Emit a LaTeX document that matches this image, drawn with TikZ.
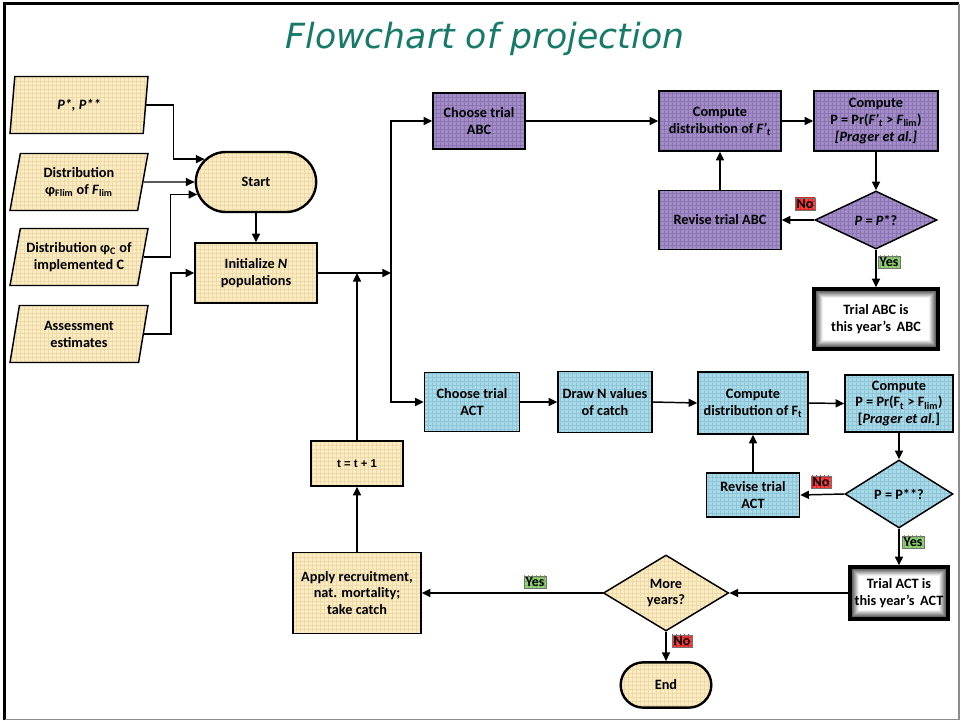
\documentclass[tikz,border=0pt]{standalone}
\usepackage{fontspec}
\setmainfont{Carlito}
\newfontfamily\titlefont{DejaVu Sans}
\newfontfamily\arialfont{Liberation Sans}
\usetikzlibrary{shapes.geometric,shapes.misc,arrows.meta,patterns,calc}
\definecolor{ylw}{RGB}{252,236,196}
\definecolor{ylwgrid}{RGB}{238,218,168}
\definecolor{prp}{RGB}{163,142,200}
\definecolor{prpgrid}{RGB}{138,116,180}
\definecolor{blu}{RGB}{170,217,232}
\definecolor{blugrid}{RGB}{140,196,216}
\definecolor{teal2}{RGB}{22,122,104}
\definecolor{redlab}{RGB}{255,64,64}
\definecolor{redgrid}{RGB}{215,40,40}
\definecolor{grnlab}{RGB}{150,212,118}
\definecolor{grngrid}{RGB}{120,185,95}
\begin{document}
\begin{tikzpicture}[x=0.75pt,y=-0.75pt,
  font=\bfseries\fontsize{10.7}{12.7}\selectfont,
  box/.style={draw=black, line width=1.1pt, align=center, inner sep=1pt},
  yl/.style={box, preaction={fill=ylw}, pattern=grid, pattern color=ylwgrid},
  pr/.style={box, preaction={fill=prp}, pattern=grid, pattern color=prpgrid},
  bl/.style={box, preaction={fill=blu}, pattern=grid, pattern color=blugrid},
  para/.style={yl, trapezium, trapezium left angle=72, trapezium right angle=108,
    trapezium stretches body, minimum width=103.5pt, minimum height=42.75pt},
  term/.style={yl, rounded rectangle, line width=1.8pt},
  dia/.style={diamond, inner sep=0pt},
  trialbox/.style={draw=black, line width=2.6pt, fill=white, align=center,
    path picture={\foreach \i [evaluate=\i as \g using 60-9*\i] in {0,...,6}{
      \draw[draw=black!\g, line width=0.9pt]
        ([shift={(1.6pt+\i*0.8pt,1.6pt+\i*0.8pt)}]path picture bounding box.south west)
        rectangle ([shift={(-1.6pt-\i*0.8pt,-1.6pt-\i*0.8pt)}]path picture bounding box.north east);}}},
  arr/.style={-{Triangle[length=6.5pt,width=6pt]}, line width=1.1pt},
  lab/.style={draw=black!55, line width=0.5pt, inner sep=1.1pt, font=\bfseries\fontsize{10.5}{11}\selectfont},
  nolab/.style={lab, preaction={fill=redlab}, pattern=grid, pattern color=redgrid},
  yeslab/.style={lab, preaction={fill=grnlab}, pattern=grid, pattern color=grngrid}
]
\useasboundingbox (0,0) rectangle (961,721);
% frame
\draw[line width=2.2pt] (4.5,720) -- (4.5,3.5) -- (959,3.5);
\draw[black!45, line width=1pt] (959,3.5) -- (959,719.5) -- (4.5,719.5);

% title
\node[font=\titlefont\itshape\mdseries\fontsize{26}{30}\selectfont, text=teal2] (title) at (485,39) {Flowchart of projection};

% inputs
\node[para] (p1) at (79,105) {\itshape P*, P**};
\node[para] (p2) at (79,182) {Distribution\\ φ\textsubscript{Flim} of \textit{F}\textsubscript{lim}};
\node[para] (p3) at (79,257) {Distribution φ\textsubscript{C} of\\ implemented C};
\node[para] (p4) at (79,334) {Assessment\\ estimates};

\node[term, minimum width=92.25pt, minimum height=45pt] (start) at (256,182) {Start};
\node[yl, minimum width=91.5pt, minimum height=45pt] (init) at (256,273) {Initialize \textit{N}\\ populations};

\node[yl, minimum width=69pt, minimum height=33.75pt, font=\arialfont\bfseries\fontsize{8.5}{10}\selectfont] (tt) at (357,463.5) {t = t + 1};
\node[yl, minimum width=96pt, minimum height=60.75pt] (apply) at (357,593) {Apply recruitment,\\ nat. mortality;\\ take catch};

% ABC row
\node[pr, minimum width=69pt, minimum height=42pt] (cABC) at (479,121) {Choose trial\\ ABC};
\node[pr, minimum width=91.5pt, minimum height=45pt] (dABC) at (720,121) {Compute\\ distribution of \textit{F’}\textsubscript{\textit{t}}};
\node[pr, minimum width=93pt, minimum height=45pt] (pABC) at (876,121) {Compute\\ P = Pr(\textit{F’}\textsubscript{\textit{t}} > \textit{F}\textsubscript{lim})\\ \textit{[Prager et al.]}};
\node[pr, minimum width=91.5pt, minimum height=44.25pt] (rABC) at (720,220) {Revise trial ABC};
\node[pr, dia, minimum width=91.5pt, minimum height=43.5pt] (qABC) at (876,220) {\textit{P} = \textit{P}*?};
\node[trialbox, minimum width=93pt, minimum height=45pt] (tABC) at (876,319) {Trial ABC is\\ this year's\, ABC};

% ACT row
\node[bl, minimum width=71.25pt, minimum height=44.25pt] (cACT) at (472,402) {Choose trial\\ ACT};
\node[bl, minimum width=70.5pt, minimum height=45.75pt] (nACT) at (605,402) {Draw N values\\ of catch};
\node[bl, minimum width=82.5pt, minimum height=46.5pt] (dACT) at (753,403) {Compute\\ distribution of F\textsubscript{t}};
\node[bl, minimum width=81pt, minimum height=42.75pt] (pACT) at (899,403.5) {Compute\\ P = Pr(F\textsubscript{t} > F\textsubscript{lim})\\ {[}\textit{Prager et al.}{]}};
\node[bl, minimum width=69.75pt, minimum height=33pt] (rACT) at (753,495) {Revise trial\\ ACT};
\node[bl, dia, minimum width=81pt, minimum height=51pt] (qACT) at (899,494) {P = P**?};
\node[trialbox, minimum width=72pt, minimum height=39pt] (tACT) at (899,593) {Trial ACT is\\ this year's\, ACT};

\node[yl, dia, minimum width=94pt, minimum height=57pt] (more) at (666,593) {More\\ years?};
\node[term, minimum width=70pt, minimum height=34pt] (end) at (666,685) {End};

% labels
\node[nolab] (no1) at (805,204) {No};
\node[yeslab] (yes1) at (889,262) {Yes};
\node[nolab] (no2) at (821,482) {No};
\node[yeslab] (yes2) at (913,542) {Yes};
\node[yeslab] (yes3) at (535,582) {Yes};
\node[nolab] (no3) at (682,641) {No};

% connectors: inputs
\draw[arr] (p1.east) -| ($(p1.east)+(27,0)$) |- (start.156);
\draw[arr] (p2.east) -- (start.west);
\draw[arr] (p3.east) -| ($(p3.east)+(27,0)$) |- (start.192.5);
\draw[arr] (p4.east) -| ($(p4.east)+(27,0)$) |- (init.west);
\draw[arr] (start.south) -- (init.north);

\coordinate (jn) at (391,273);
\draw[arr] (init.east) -- (jn);
\draw[arr] (jn) |- (cABC.west);
\draw[arr] (jn) |- (cACT.west);
\draw[arr] (tt.north) -- (tt.north |- init.east);
\draw[arr] (apply.north) -- (tt.south);

% ABC
\draw[arr] (cABC.east) -- (dABC.west);
\draw[arr] (dABC.east) -- (pABC.west);
\draw[arr] (pABC.south) -- (qABC.north);
\draw[arr] (qABC.west) -- (rABC.east);
\draw[arr] (rABC.north) -- (dABC.south);
\draw[arr] (qABC.south) -- (tABC.north);

% ACT
\draw[arr] (cACT.east) -- (nACT.west);
\draw[arr] (nACT.east) -- (dACT.west);
\draw[arr] (dACT.east) -- (pACT.west);
\draw[arr] (pACT.south) -- (qACT.north);
\draw[arr] (qACT.west) -- (rACT.east);
\draw[arr] (rACT.north) -- (dACT.south);
\draw[arr] (qACT.south) -- (tACT.north);
\draw[arr] (tACT.west) -- (more.east);
\draw[arr] (more.west) -- (apply.east);
\draw[arr] (more.south) -- (end.north);
\end{tikzpicture}
\end{document}
